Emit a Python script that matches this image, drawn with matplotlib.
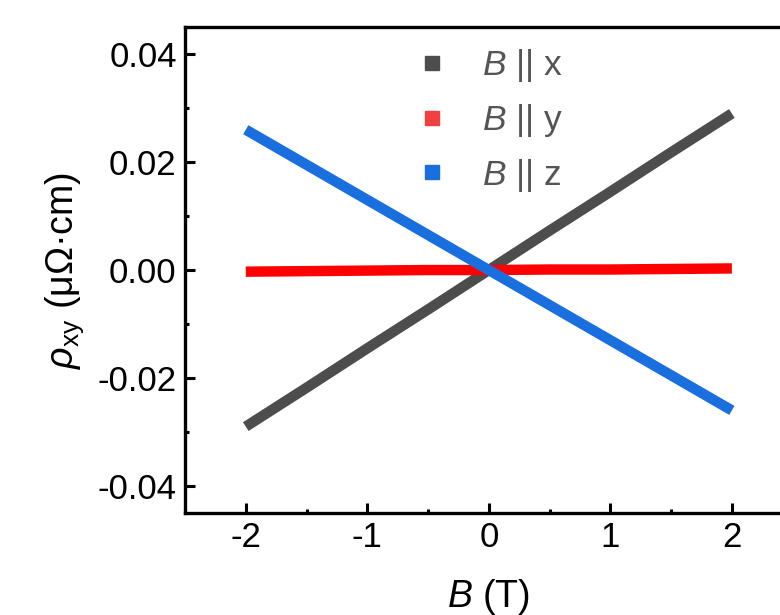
import numpy as np
import matplotlib.pyplot as plt
from matplotlib.lines import Line2D

plt.rcParams['font.family'] = ['Liberation Sans', 'DejaVu Sans']
plt.rcParams['mathtext.fontset'] = 'custom'
plt.rcParams['mathtext.rm'] = 'Liberation Sans'
plt.rcParams['mathtext.it'] = 'Liberation Sans:italic'

# Field values (T) and Hall resistivity (uOhm cm)
B = [-2.0, -1.5, -1.0, -0.5, 0.0, 0.5, 1.0, 1.5, 2.0]
rho_x = [-0.0290, -0.0218, -0.0145, -0.0073, 0.0000, 0.0073, 0.0145, 0.0218, 0.0290]
rho_y = [-0.0003, -0.0002, -0.0001, 0.0000, 0.0000, 0.0001, 0.0001, 0.0002, 0.0003]
rho_z = [0.0260, 0.0195, 0.0130, 0.0065, 0.0000, -0.0065, -0.0130, -0.0195, -0.0260]

labels = [r'$B$ || x', r'$B$ || y', r'$B$ || z']
line_colors = ['#4d4d4d', '#ff0000', '#1a6fdf']
legend_colors = ['#4d4d4d', '#f04040', '#1a6fdf']

fig = plt.figure(figsize=(7.8, 6.15), dpi=100)
ax = fig.add_axes([0.2372, 0.1659, 0.779, 0.790])

for y, c in zip([rho_x, rho_y, rho_z], line_colors):
    ax.plot(B, y, color=c, lw=7.5, solid_capstyle='butt')

ax.set_xlim(-2.5, 2.5)
ax.set_ylim(-0.045, 0.045)
ax.set_xticks([-2, -1, 0, 1, 2])
ax.set_yticks([-0.04, -0.02, 0.0, 0.02, 0.04])
ax.set_xticks(np.arange(-2.5, 2.6, 0.5), minor=True)
ax.set_yticks(np.arange(-0.04, 0.041, 0.01), minor=True)
ax.set_xticklabels(['-2', '-1', '0', '1', '2'])
ax.set_yticklabels(['-0.04', '-0.02', '0.00', '0.02', '0.04'])
ax.tick_params(which='major', direction='in', length=7, width=2.2,
               labelsize=25, pad=6)
ax.tick_params(which='minor', direction='in', length=3, width=2.2)
for s in ax.spines.values():
    s.set_linewidth(2.4)

ax.set_xlabel(r'$B$ (T)', fontsize=27, labelpad=16)
ax.set_ylabel(r'$\rho_{\rm xy}$ (μΩ·cm)', fontsize=27, labelpad=8)

handles = [Line2D([], [], ls='none', marker='s', markersize=9.5, color=c)
           for c in legend_colors]
leg = ax.legend(handles, labels, loc='upper left', bbox_to_anchor=(0.322, 1.024),
                frameon=False, fontsize=25.5, handlelength=1.1,
                handletextpad=0.85, labelspacing=0.5)
for t in leg.get_texts():
    t.set_color('#555555')

fig.savefig('out.png', dpi=100)
